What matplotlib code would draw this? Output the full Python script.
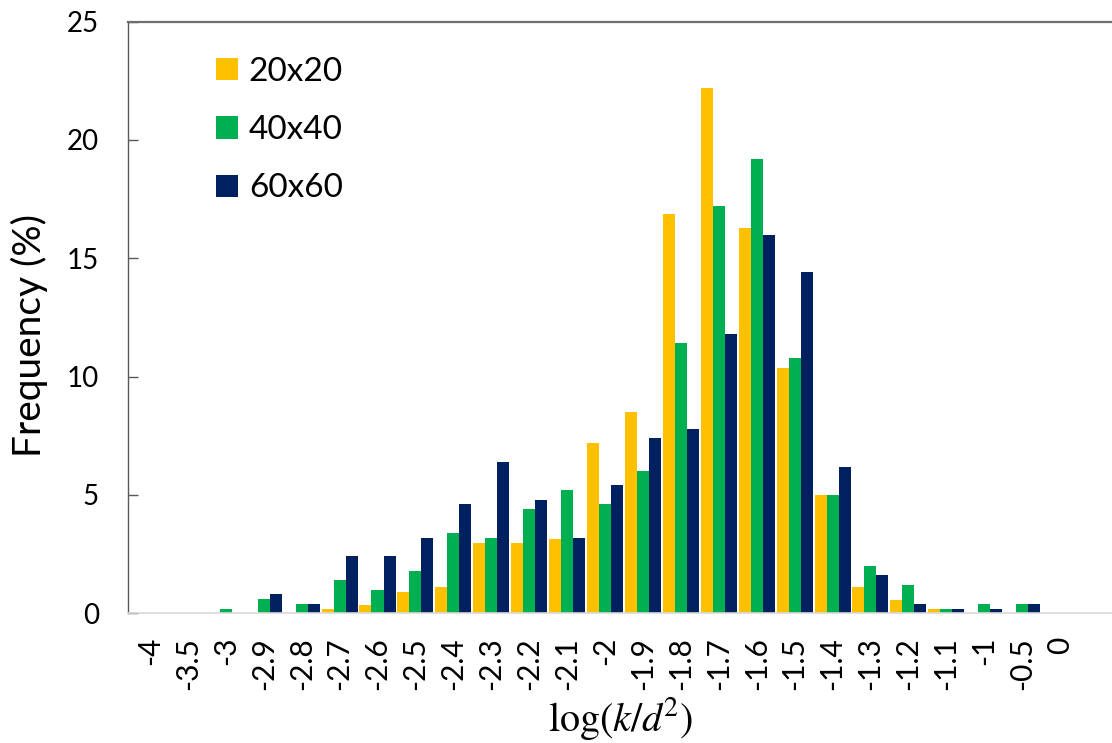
import matplotlib
matplotlib.use("Agg")
import matplotlib.pyplot as plt
import numpy as np

categories = ['-4', '-3.5', '-3', '-2.9', '-2.8', '-2.7', '-2.6', '-2.5', '-2.4', '-2.3',
              '-2.2', '-2.1', '-2', '-1.9', '-1.8', '-1.7', '-1.6', '-1.5', '-1.4', '-1.3',
              '-1.2', '-1.1', '-1', '-0.5', '0']
series_names = ['20x20', '40x40', '60x60']
s20 = [0, 0, 0, 0, 0, 0.2, 0.35, 0.9, 1.1, 2.95, 2.95, 3.15, 7.2, 8.5, 16.85, 22.2,
       16.3, 10.35, 5.0, 1.1, 0.55, 0.2, 0, 0, 0]
s40 = [0, 0, 0.2, 0.6, 0.4, 1.4, 1.0, 1.8, 3.4, 3.2, 4.4, 5.2, 4.6, 6.0, 11.4, 17.2,
       19.2, 10.8, 5.0, 2.0, 1.2, 0.2, 0.4, 0.4, 0]
s60 = [0, 0, 0, 0.8, 0.4, 2.4, 2.4, 3.2, 4.6, 6.4, 4.8, 3.2, 5.4, 7.4, 7.8, 11.8,
       16.0, 14.4, 6.2, 1.6, 0.4, 0.2, 0.2, 0.4, 0]
y_ticks = [0, 5, 10, 15, 20, 25]

colors = ['#FFC000', '#00B050', '#002060']

plt.rcParams['mathtext.fontset'] = 'stix'
tick_font = 'Lato'

fig = plt.figure(figsize=(11.12, 7.43), dpi=100)
ax = fig.add_axes([128 / 1112, (743 - 613.3) / 743, (1112 - 128) / 1112, (613.3 - 21.6) / 743])

x = np.arange(len(categories))
w = 0.317
for i, (vals, name, c) in enumerate(zip([s20, s40, s60], series_names, colors)):
    ax.bar(x + (i - 1) * w, vals, width=w, color=c, label=name, linewidth=0)

ax.set_xlim(-0.58, 25.37)
ax.set_ylim(0, 25)
ax.set_yticks(y_ticks)
ax.set_yticklabels([str(t) for t in y_ticks], fontfamily=tick_font, fontsize=20)
ax.set_xticks(x)
ax.set_xticklabels(categories, rotation=90, fontfamily=tick_font, fontsize=21.5)
ax.tick_params(axis='x', length=0, pad=17)
ax.tick_params(axis='y', direction='in', length=7, width=1, color='#595959', pad=21)

ax.spines['right'].set_visible(False)
ax.spines['left'].set_color('#595959')
ax.spines['left'].set_linewidth(1)
ax.spines['bottom'].set_color('#d9d9d9')
ax.spines['bottom'].set_linewidth(1.2)
ax.spines['top'].set_color('#6e6e6e')
ax.spines['top'].set_linewidth(1.6)

ax.set_ylabel('Frequency (%)', fontfamily=tick_font, fontsize=28)
ax.yaxis.set_label_coords(-0.081, 0.469)
ax.set_xlabel(r'$\mathrm{log}(k/d^{\!2})$', fontsize=29, labelpad=4)

leg = ax.legend(loc='upper left', bbox_to_anchor=(0.076, 0.963), frameon=False,
                prop={'family': tick_font, 'size': 24},
                handlelength=0.65, handleheight=0.65, handletextpad=0.33,
                labelspacing=0.85, borderaxespad=0)

fig.savefig('out.png', dpi=100)
